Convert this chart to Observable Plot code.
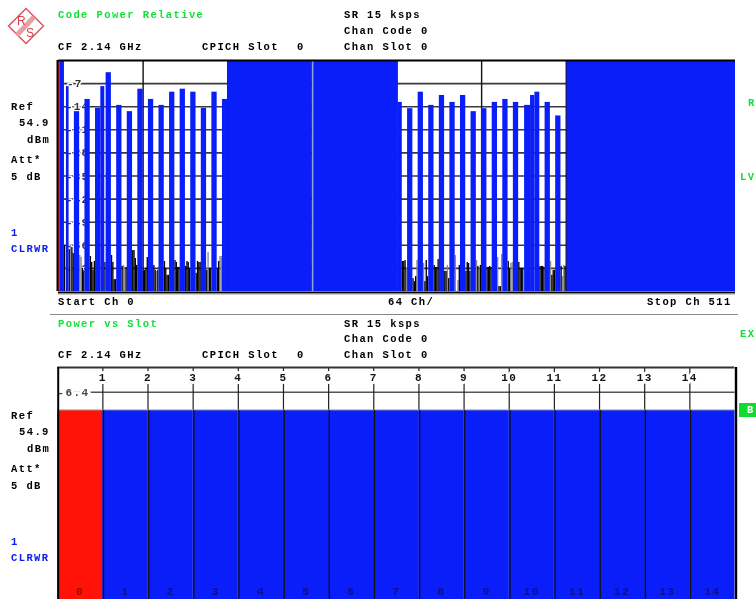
<!DOCTYPE html>
<html><head><meta charset="utf-8">
<script src="https://cdn.jsdelivr.net/npm/d3@7"></script>
<script src="https://cdn.jsdelivr.net/npm/@observablehq/plot@0.6"></script>
<style>
html,body{margin:0;padding:0;background:#fff}
#root{position:relative;width:756px;height:599px;overflow:hidden;background:#fff;filter:blur(.4px)}
.t{position:absolute;font:bold 10.5px "Liberation Mono",monospace;letter-spacing:1.4px;white-space:pre;color:#000;line-height:12px;transform:translateY(-6px)}
.g{color:#10e038}.b{color:#1020f0}
</style></head><body><div id="root"></div>
<script>
// ---- Code Power Relative (channels 0..511, dB)
const solidStart = [1.5,128,192.6,256.7,384.6];
const solidEnd   = [4.5,192,256.7,260,512];
const barStart = [6,12,20,28,32,36,44,52,60,68,76,84,92,100,108,116,124,264,272,280,288,296,304,312,320,328,336,344,352.5,357,360.3,368,376];
const barEnd   = [8,16,24,32,35,40,48,56,64,72,80,88,96,104,112,120,128,268,276,284,292,300,308,316,324,332,340,348,357,360.3,364,372,380];
const barDb    = [-7.9,-15.5,-11.8,-14.5,-7.9,-3.7,-13.6,-15.5,-8.7,-11.8,-13.6,-9.6,-8.7,-9.6,-14.5,-9.6,-11.8,-14.6,-9.6,-13.6,-10.6,-12.7,-10.6,-15.5,-14.6,-12.7,-11.8,-12.7,-13.6,-10.6,-9.6,-12.7,-16.8];
const solidTopDb = [0,0,0,-12.7,0];
const noiseCh = [4.5,8,10,11,18,19,24,25,26,27,35,40,41,42,43,48,51,56,57,58,59,64,65,66,67,72,73,75,80,81,82,83,88,89,90,91,96,97,98,99,104,105,106,107,112,114,115,120,121,260,261,262,268,269,270,277,278,279,284,285,286,287,292,293,295,303,308,309,310,311,317,319,324,325,326,327,333,334,340,341,348,349,350,351,364,365,366,367,373,374,375,380,383];
const noiseDb = [-56.1,-57.3,-56.7,-58.5,-63,-64.2,-59.4,-61.2,-63.6,-60.9,-61.2,-59.1,-61.2,-66.4,-66.4,-62.4,-62.7,-57.6,-57.6,-60,-62.1,-63.9,-63.6,-63,-59.7,-62.1,-63.6,-63.6,-60.9,-63,-65.1,-65.1,-60.6,-61.2,-62.7,-62.7,-62.4,-60.9,-61.2,-63,-64.5,-60.9,-61.2,-61.2,-63.6,-63,-63,-63,-60.9,-60.9,-60.9,-60.6,-66.1,-67,-65.5,-67,-60.6,-65.5,-62.1,-62.7,-62.7,-60.3,-63.9,-63.9,-66.1,-62.1,-63.9,-61.2,-61.5,-63.9,-62.4,-62.1,-62.7,-62.7,-62.4,-62.7,-68.5,-68.5,-60.9,-63,-61.2,-63,-63,-63,-62.4,-62.4,-62.4,-62.7,-65.1,-63.6,-63.6,-62.4,-62.4];
const greyCh = [9,16,17,49,50,74,113,122,123,263,271,276,294,300,302,316,318,332,335,342,343,372,381,382];
const greyDb = [-56.1,-59.1,-59.7,-62.1,-62.7,-63.9,-58.2,-59.4,-59.4,-63,-60.6,-61.5,-62.1,-59.1,-66.7,-60.6,-63,-59.7,-58.8,-61.5,-61.2,-60.9,-65.5,-62.1];
const codeGrid = [-7,-14,-21,-28,-35,-42,-49,-56,-63];
const codeV = [64,128,192,256,320,384,448];
// ---- Power vs Slot
const slots = [0,1,2,3,4,5,6,7,8,9,10,11,12,13,14];
const slotDb = [-11.1,-11.1,-11.1,-11.1,-11.1,-11.1,-11.1,-11.1,-11.1,-11.1,-11.1,-11.1,-11.1,-11.1,-11.1];
const slotTicks = [1,2,3,4,5,6,7,8,9,10,11,12,13,14];
const BLUE="#0a1efa", RED="#ff1208";
const FONT='bold 11px "Liberation Mono",monospace';

const zip=(...a)=>a[0].map((_,i)=>a.map(c=>c[i]));
const top1 = Plot.plot({
  width:756,height:300,marginTop:60,marginBottom:9,marginLeft:58,marginRight:21,
  style:{font:FONT,letterSpacing:"1.1px",color:"#333",background:"none",overflow:"visible"},
  x:{domain:[0,512],axis:null},y:{domain:[-70,0],axis:null},
  marks:[
    Plot.ruleY(codeGrid,{stroke:"#3a3a3a",strokeWidth:1.6}),
    Plot.ruleX(codeV,{stroke:"#111",strokeWidth:1.4}),
    Plot.axisY({ticks:[-7],anchor:"left",tickSize:0,tickPadding:-24,tickFormat:d=>String(d),label:null,textStroke:"#fff",textStrokeWidth:3,fill:"#333"}),
    Plot.axisY({ticks:codeGrid.slice(1),anchor:"left",tickSize:0,tickPadding:-30.7,tickFormat:d=>String(d),label:null,textStroke:"#fff",textStrokeWidth:3,fill:"#333"}),
    Plot.rect(zip(greyCh,greyDb),{x1:d=>d[0],x2:d=>d[0]+1,y1:-70,y2:d=>d[1],fill:"#8a8a8a"}),
    Plot.rect(zip(noiseCh,noiseDb),{x1:d=>d[0],x2:d=>d[0]+1,y1:-70,y2:d=>d[1],fill:"#000"}),
    Plot.rect(zip(barStart,barEnd,barDb),{x1:d=>d[0],x2:d=>d[1],y1:-70,y2:d=>d[2],fill:BLUE}),
    Plot.rect(zip(solidStart,solidEnd,solidTopDb),{x1:d=>d[0],x2:d=>d[1],y1:-70,y2:d=>d[2],fill:BLUE}),
    Plot.rect([[0,1.5]],{x1:d=>d[0],x2:d=>d[1],y1:-70,y2:0,fill:RED}),
    Plot.ruleX([192.3],{stroke:"#c8d4ff",strokeWidth:1}),
    Plot.ruleY([0],{stroke:"#000",strokeWidth:2}),
    Plot.ruleX([0],{stroke:"#000",strokeWidth:2,dx:-1}),
    Plot.ruleY([-70],{stroke:"#000",strokeWidth:2,dy:1}),
    Plot.ruleY([-70],{stroke:"#999",strokeWidth:1,dy:2.5})
  ]});
const bot = Plot.plot({
  width:756,height:285,marginTop:53,marginBottom:0,marginLeft:57.2,marginRight:21.5,
  style:{font:FONT,letterSpacing:"1.4px",color:"#222",background:"none",overflow:"visible"},
  x:{domain:[0,15],axis:null},y:{domain:[-60,0],axis:null},
  marks:[
    Plot.ruleY([-6.4],{stroke:"#555",strokeWidth:1.5}),
    Plot.ruleX(slotTicks,{stroke:"#222",strokeWidth:1.2}),
    Plot.axisX({ticks:slotTicks,anchor:"top",tickSize:0,tickPadding:-13,tickFormat:d=>String(d),label:null,textStroke:"#fff",textStrokeWidth:6,fill:"#111"}),
    Plot.axisY({ticks:[-6.4],anchor:"left",tickSize:0,tickPadding:-31.7,tickFormat:d=>String(d),label:null,textStroke:"#fff",textStrokeWidth:6,fill:"#444"}),
    Plot.rect(zip(slots,slotDb),{x1:d=>d[0],x2:d=>d[0]+1,y1:-60,y2:d=>d[1],fill:d=>d[0]===0?RED:BLUE}),
    Plot.ruleY([-11.1],{stroke:"#aaa",strokeWidth:1,dy:-.5}),
    Plot.ruleX(slotTicks,{y1:-60,y2:-11.1,stroke:"#111",strokeWidth:1.3,dx:.7}),
    Plot.text(slots,{x:d=>d+.5,y:-57.8,text:d=>String(d),fill:d=>d===0?"#980a04":"#10108c",fontSize:11.5}),
    Plot.ruleY([0],{stroke:"#333",strokeWidth:1.8}),
    Plot.ruleX([0],{stroke:"#000",strokeWidth:2,dx:.5}),
    Plot.ruleX([15],{stroke:"#000",strokeWidth:2.4,dx:1})
  ]});
const root=document.getElementById("root");
for(const [s,t] of [[top1,0],[bot,314]]){s.style.position="absolute";s.style.left="0";s.style.top=t+"px";}
root.append(top1,bot);
function label(s,x,y,cls=""){const e=document.createElement("div");e.className="t "+cls;e.textContent=s;e.style.left=x+"px";e.style.top=y+"px";root.append(e);return e;}
const headers=[
 ["SR 15 ksps",344,15],["Chan Code 0",344,31],["CF 2.14 GHz",58,47],["CPICH Slot",202,47],["0",297,47],["Chan Slot 0",344,47],
 ["Start Ch 0",58,302],["64 Ch/",388,302],["Stop Ch 511",647,302],
 ["SR 15 ksps",344,324],["Chan Code 0",344,339],["CF 2.14 GHz",58,355],["CPICH Slot",202,355],["0",297,355],["Chan Slot 0",344,355],
 ["Ref",11,107],["54.9",19,123],["dBm",27,140],["Att*",11,160],["5 dB",11,177],
 ["Ref",11,416],["54.9",19,432],["dBm",27,449],["Att*",11,469],["5 dB",11,486]];
headers.forEach(h=>label(...h));
[["Code Power Relative",58,15],["Power vs Slot",58,324],["R",748,103],["LV",740,177],["EX",740,334]].forEach(h=>label(...h,"g"));
[["1",11,233],["CLRWR",11,249],["1",11,542],["CLRWR",11,558]].forEach(h=>label(...h,"b"));
const sep=document.createElement("div");sep.style.cssText="position:absolute;left:50px;top:313.5px;width:688px;height:1.2px;background:#888";root.append(sep);
const box=document.createElement("div");box.style.cssText="position:absolute;left:739px;top:403px;width:17px;height:14px;background:#10dc30";root.append(box);
label("B",747,410).style.color="#fff";
// R&S logo
root.insertAdjacentHTML("beforeend",`<svg width="52" height="52" style="position:absolute;left:0;top:0" viewBox="0 0 52 52">
<path d="M26 8.5L43.5 26L26 43.5L8.5 26Z" fill="#fff" stroke="#d8505c" stroke-width="1.4"/>
<path d="M34 17L17 35" stroke="#e8a0a6" stroke-width="5"/>
<text x="17" y="25" font-family="Liberation Sans" font-size="12" fill="#d8404c">R</text>
<text x="26" y="37" font-family="Liberation Sans" font-size="12" fill="#d8404c">S</text></svg>`);
</script></body></html>
